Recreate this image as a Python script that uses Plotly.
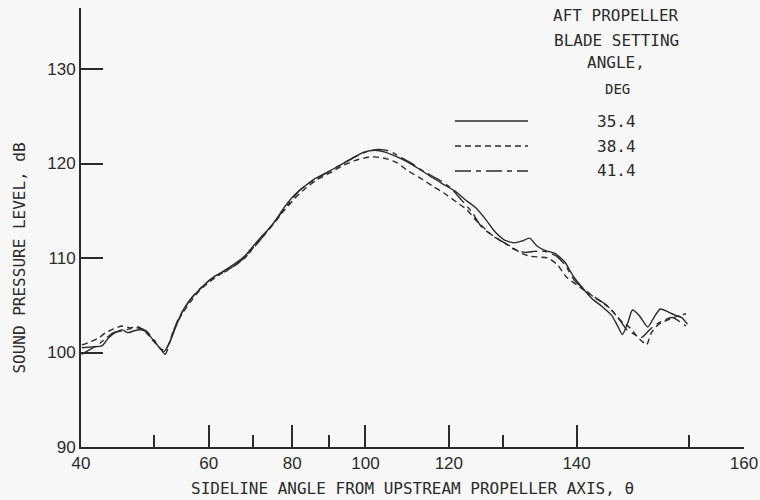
import numpy as np
import plotly.graph_objects as go

# ---- data (angle in deg, level in dB) ----
theta_354 = [40.1, 41.3, 42.5, 43.3, 44.2, 45.2, 46.0, 46.9, 47.8, 48.7, 49.6, 50.6, 51.6, 52.6, 53.7,
             54.8, 56.3, 58.2, 60.2, 62.8, 65.7, 68.0, 69.7, 71.7, 73.7, 75.7, 77.8, 80.7, 83.4, 86.2,
             89.7, 93.0, 96.3, 99.6, 102.6, 105.1, 107.6, 110.1, 113.2, 115.9, 118.5, 121.2, 123.2,
             125.1, 126.9, 128.6, 130.2, 131.8, 132.9, 134.0, 135.0, 136.1, 137.4, 138.6, 139.6,
             140.6, 141.7, 142.7, 143.7, 144.3, 144.7, 145.2, 145.6, 146.2, 146.9, 147.4, 147.9,
             148.5, 149.1, 149.5, 149.9]
spl_354 = [100.5, 100.6, 100.7, 101.5, 102.1, 102.4, 102.1, 102.3, 102.4, 102.2, 101.5, 100.7, 100.1,
           101.1, 102.8, 104.3, 105.6, 106.7, 107.7, 108.5, 109.4, 110.2, 111.1, 112.1, 113.0, 114.0,
           115.3, 116.7, 117.6, 118.4, 119.1, 119.8, 120.5, 121.2, 121.4, 121.2, 120.8, 120.3, 119.5,
           118.7, 117.9, 117.1, 116.2, 115.4, 114.2, 112.8, 111.9, 111.6, 111.8, 112.1, 111.3, 110.8,
           110.5, 109.6, 108.1, 106.9, 105.7, 104.9, 103.9, 102.7, 101.9, 103.2, 104.5, 103.9, 102.7,
           103.7, 104.6, 104.3, 103.9, 103.7, 103.0]

theta_384 = [40.1, 41.0, 42.0, 43.0, 44.0, 45.2, 46.3, 47.5, 48.7, 50.0, 51.2, 52.1, 53.3, 54.8, 56.3,
             58.2, 60.2, 62.8, 65.7, 68.0, 70.4, 72.9, 75.5, 78.0, 80.7, 83.4, 86.7, 90.3, 93.9, 97.1,
             99.8, 102.5, 105.6, 108.1, 110.6, 113.6, 116.6, 119.2, 121.6, 123.6, 125.3, 127.8, 129.4,
             131.0, 132.6, 134.0, 135.4, 136.5, 137.7, 138.8, 140.4, 142.0, 143.5, 144.5, 145.4,
             146.0, 146.5, 146.8, 147.2, 147.7, 148.4, 149.1, 149.8]
spl_384 = [100.8, 101.1, 101.5, 102.1, 102.5, 102.8, 102.6, 102.7, 102.1, 101.1, 100.3, 100.5, 102.4,
           104.1, 105.3, 106.6, 107.5, 108.4, 109.2, 110.0, 111.3, 112.5, 113.8, 115.1, 116.3, 117.3,
           118.3, 119.0, 119.8, 120.3, 120.6, 120.7, 120.5, 120.1, 119.3, 118.5, 117.6, 116.8, 115.9,
           115.1, 114.0, 112.6, 111.9, 111.3, 110.6, 110.2, 110.1, 110.0, 109.3, 108.0, 106.9, 105.8,
           104.7, 103.4, 102.6, 101.7, 101.1, 100.8, 102.1, 102.9, 103.4, 103.8, 104.1]

theta_414 = [40.1, 41.0, 42.0, 43.0, 44.0, 45.2, 46.3, 47.5, 48.7, 50.0, 50.9, 51.8, 52.8, 54.0, 55.5,
             57.2, 59.2, 61.3, 64.1, 66.8, 69.2, 71.7, 74.2, 76.8, 79.4, 82.1, 85.3, 88.9, 93.0, 97.1,
             100.6, 103.3, 106.4, 108.9, 111.8, 114.8, 117.5, 120.2, 122.6, 124.5, 126.3, 128.6, 130.2,
             131.8, 133.3, 134.7, 136.1, 137.6, 138.7, 139.8, 141.5, 143.2, 144.3, 145.1, 145.8,
             146.4, 147.2, 148.0, 148.8, 149.8]
spl_414 = [99.8, 100.3, 100.8, 101.5, 102.1, 102.3, 102.5, 102.6, 102.3, 101.3, 100.5, 99.8, 101.5,
           103.4, 104.9, 106.2, 107.2, 108.1, 108.7, 109.6, 110.6, 111.9, 113.2, 114.6, 115.9, 117.2,
           118.1, 118.9, 119.8, 120.7, 121.3, 121.5, 121.3, 120.7, 120.0, 119.1, 118.4, 117.5, 116.1,
           114.9, 113.3, 112.2, 111.6, 110.9, 110.6, 110.7, 110.7, 110.2, 109.2, 107.6, 106.2, 105.0,
           103.7, 102.4, 101.9, 101.6, 102.6, 103.3, 103.7, 102.8]

series_names = ["35.4", "38.4", "41.4"]
series_dash = ["solid", "6px,4px", "16px,5px,5px,5px"]

x_major = [40, 60, 80, 100, 120, 140]
x_minor = [50, 70, 90, 130, 150]
x_end_theta = 153.4          # where the drawn axis ends (labelled 160 in the original)
x_end_label = "160"
y_ticks = [90, 100, 110, 120, 130]
y_top = 136.46

legend_title = ["AFT PROPELLER", "BLADE SETTING", "ANGLE,"]
legend_unit = "DEG"


def sideline(theta):
    """Sideline-distance scale of the original abscissa (-cot theta)."""
    return np.tan(np.radians(np.asarray(theta, dtype=float) - 90.0))


INK = "#2b2b2b"
BG = "#f7f7f7"
MONO = "DejaVu Sans Mono"
NUM = "Liberation Sans Narrow, Liberation Sans, Arial"

fig = go.Figure()
for th, spl, name, dash in zip([theta_354, theta_384, theta_414],
                               [spl_354, spl_384, spl_414],
                               series_names, series_dash):
    fig.add_trace(go.Scatter(x=sideline(th), y=spl, mode="lines", name=name,
                             line=dict(color=INK, width=1.4, dash=dash, shape="spline",
                                       smoothing=0.6),
                             showlegend=False, hoverinfo="skip"))

x_lo = float(sideline(40))
x_hi = float(sideline(x_end_theta))
fig.update_xaxes(range=[x_lo, x_hi], automargin=False, showline=True, linecolor=INK, linewidth=2,
                 showgrid=False, zeroline=False, ticks="inside", ticklen=22, tickwidth=2,
                 tickcolor=INK,
                 tickmode="array",
                 tickvals=list(sideline(x_major)) + [x_hi],
                 ticktext=[str(v) for v in x_major] + [x_end_label],
                 tickfont=dict(family=NUM, size=17, color=INK),
                 minor=dict(tickmode="array", tickvals=list(sideline(x_minor)), ticks="inside",
                            ticklen=12, tickwidth=2, tickcolor=INK, showgrid=False))
fig.update_yaxes(range=[90, y_top], automargin=False, showline=True, linecolor=INK, linewidth=2,
                 showgrid=False, zeroline=False, ticks="inside", ticklen=22, tickwidth=2,
                 tickcolor=INK, tickmode="array", tickvals=y_ticks,
                 tickfont=dict(family=NUM, size=17, color=INK))

ann = []
ann.append(dict(text="SIDELINE ANGLE FROM UPSTREAM PROPELLER AXIS, θ", xref="paper", yref="paper",
                x=0.5, y=-0.095, xanchor="center", yanchor="middle", showarrow=False,
                font=dict(family=MONO, size=16, color=INK)))
ann.append(dict(text="SOUND PRESSURE LEVEL, dB", xref="paper", yref="paper",
                x=-0.093, y=0.43, xanchor="center", yanchor="middle", textangle=-90,
                showarrow=False, font=dict(family=MONO, size=16, color=INK)))

# legend block (manual, to match the original layout)
W, H, L, T = 760, 500, 81, 8
pw, ph = 744 - L, 447 - T


def px(xp):
    return (xp - L) / pw


def py(yp):
    return 1 - (yp - T) / ph


for txt, yp in zip(legend_title, [16, 40, 63]):
    ann.append(dict(text=txt, xref="paper", yref="paper", x=px(616), y=py(yp),
                    xanchor="center", yanchor="middle", showarrow=False,
                    font=dict(family=MONO, size=16, color=INK)))
ann.append(dict(text=legend_unit, xref="paper", yref="paper", x=px(617), y=py(89),
                xanchor="center", yanchor="middle", showarrow=False,
                font=dict(family=MONO, size=14, color=INK)))
shapes = []
for name, dash, yp in zip(series_names, series_dash, [121, 146, 171]):
    ann.append(dict(text=name, xref="paper", yref="paper", x=px(616), y=py(yp),
                    xanchor="center", yanchor="middle", showarrow=False,
                    font=dict(family=MONO, size=16, color=INK)))
    shapes.append(dict(type="line", xref="paper", yref="paper", x0=px(455), x1=px(528),
                       y0=py(yp), y1=py(yp), line=dict(color=INK, width=1.4, dash=dash)))

fig.update_layout(width=W, height=H, margin=dict(l=L, r=W - 744, t=T, b=H - 447),
                  paper_bgcolor=BG, plot_bgcolor=BG, annotations=ann, shapes=shapes,
                  showlegend=False)

fig.write_html("out.html")
